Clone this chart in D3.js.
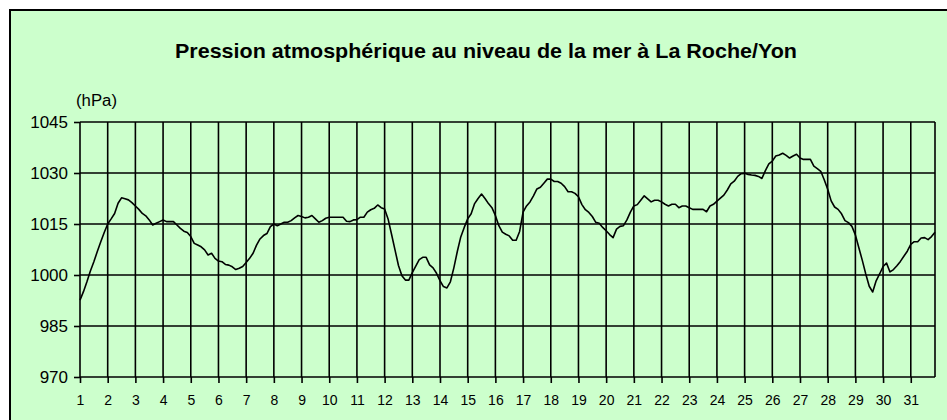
<!DOCTYPE html>
<html>
<head>
<meta charset="utf-8">
<script src="https://cdn.jsdelivr.net/npm/d3@7"></script>
<style>
  body { margin: 0; background: #fff; }
  text { font-family: "Liberation Sans", Arial, sans-serif; fill: #000; }
</style>
</head>
<body>
<svg id="chart" width="947" height="420"></svg>
<script>
var plot = {
    left: 80,
    right: 935,
    top: 122,
    bottom: 377
};

var colorFond = "#CCFFCC";

var titre = "Pression atmosphérique au niveau de la mer à La Roche/Yon";
var unite = "(hPa)";

// jours du mois (etiquettes de l'axe x)
var jours = d3.range(1, 32);
var yTicks = [970, 985, 1000, 1015, 1030, 1045];

// releves toutes les 3 heures (8 par jour), jour 1 -> 31
var pression = [
    992.6, 995.1, 998.0, 1001.2, 1003.9, 1006.9, 1009.8, 1012.5,   // 1
    1015.0, 1016.5, 1018.1, 1021.1, 1022.7, 1022.4, 1022.1, 1021.3, // 2
    1020.3, 1019.3, 1018.1, 1017.4, 1016.2, 1014.7, 1015.2, 1015.7, // 3
    1016.2, 1015.7, 1015.7, 1015.7, 1014.7, 1013.7, 1012.9, 1012.5, // 4
    1011.3, 1009.3, 1008.8, 1008.3, 1007.4, 1005.9, 1006.4, 1004.9, // 5
    1004.1, 1003.9, 1003.1, 1002.9, 1002.4, 1001.6, 1002.0, 1002.5, // 6
    1003.7, 1004.9, 1006.4, 1008.8, 1010.6, 1011.6, 1012.2, 1014.2, // 7
    1015.0, 1014.5, 1015.0, 1015.5, 1015.5, 1016.0, 1016.8, 1017.5, // 8
    1017.2, 1016.8, 1017.0, 1017.5, 1016.5, 1015.5, 1016.0, 1016.7, // 9
    1017.0, 1017.0, 1017.0, 1017.0, 1017.0, 1015.8, 1015.7, 1016.2, // 10
    1016.3, 1017.0, 1017.0, 1018.5, 1019.2, 1019.6, 1020.6, 1019.8, // 11
    1019.4, 1016.5, 1012.0, 1007.4, 1002.8, 999.8, 998.5, 998.5,    // 12
    1000.7, 1002.6, 1004.5, 1005.2, 1005.2, 1003.0, 1002.1, 1000.5, // 13
    998.3, 996.6, 996.2, 998.0, 1002.1, 1006.9, 1011.2, 1014.0,     // 14
    1016.5, 1018.0, 1021.0, 1022.5, 1023.8, 1022.5, 1021.0, 1019.8, // 15
    1017.5, 1014.5, 1012.6, 1012.0, 1011.5, 1010.2, 1010.2, 1012.8, // 16
    1018.5, 1020.3, 1021.5, 1023.3, 1025.3, 1025.8, 1027.0, 1028.2, // 17
    1028.2, 1027.5, 1027.5, 1027.0, 1026.0, 1024.5, 1024.5, 1024.0, // 18
    1023.0, 1020.7, 1019.2, 1018.4, 1017.2, 1015.5, 1015.2, 1014.0, // 19
    1013.0, 1011.9, 1011.0, 1013.5, 1014.3, 1014.5, 1016.2, 1018.5, // 20
    1020.3, 1020.7, 1022.0, 1023.3, 1022.4, 1021.5, 1022.0, 1022.0, // 21
    1021.5, 1020.8, 1020.3, 1020.8, 1020.8, 1019.8, 1020.3, 1020.3, // 22
    1019.8, 1019.3, 1019.3, 1019.3, 1019.3, 1018.6, 1020.3, 1020.8, // 23
    1021.7, 1022.6, 1023.5, 1025.0, 1026.8, 1027.6, 1029.0, 1029.8, // 24
    1029.9, 1029.6, 1029.4, 1029.3, 1029.0, 1028.4, 1030.7, 1032.7, // 25
    1033.5, 1035.0, 1035.3, 1035.8, 1035.2, 1034.4, 1035.0, 1035.5, // 26
    1034.4, 1034.0, 1034.0, 1034.0, 1032.0, 1031.3, 1030.5, 1028.0, // 27
    1025.2, 1021.8, 1020.0, 1019.3, 1018.0, 1016.0, 1015.4, 1014.3, // 28
    1011.8, 1008.0, 1004.3, 1000.3, 996.7, 995.0, 998.3, 1000.3,    // 29
    1002.5, 1003.5, 1000.9, 1001.6, 1002.7, 1004.0, 1005.5, 1007.0, // 30
    1009.0, 1009.8, 1009.8, 1010.9, 1011.0, 1010.4, 1011.3, 1012.6  // 31
];

var svg = d3.select("#chart");

// cadre vert
svg.append("rect")
    .attr("x", 10).attr("y", 10)
    .attr("width", 960).attr("height", 430)
    .style("fill", colorFond)
    .style("stroke", "#000")
    .style("stroke-width", 2);

var x = d3.scaleLinear()
    .domain([1, 31 + 7 / 8])
    .range([plot.left, plot.right]);

var y = d3.scaleLinear()
    .domain([970, 1045])
    .range([plot.bottom, plot.top]);

// titre
svg.append("text")
    .attr("x", 486).attr("y", 58)
    .attr("text-anchor", "middle")
    .attr("textLength", 622)
    .attr("lengthAdjust", "spacingAndGlyphs")
    .style("font-size", "21px")
    .style("font-weight", "bold")
    .text(titre);

svg.append("text")
    .attr("x", 76).attr("y", 106)
    .attr("textLength", 41)
    .attr("lengthAdjust", "spacingAndGlyphs")
    .style("font-size", "16px")
    .text(unite);

// grille
var grid = svg.append("g").attr("class", "grid");

grid.selectAll(".hline")
    .data(yTicks)
    .enter().append("line")
    .attr("x1", plot.left).attr("x2", plot.right)
    .attr("y1", d => y(d)).attr("y2", d => y(d));

grid.selectAll(".vline")
    .data(jours.concat([31 + 7 / 8]))
    .enter().append("line")
    .attr("x1", d => x(d)).attr("x2", d => x(d))
    .attr("y1", plot.top).attr("y2", plot.bottom);

grid.selectAll("line")
    .style("stroke", "#000")
    .style("stroke-width", 1.6);

// axes
var yAxis = svg.append("g")
    .attr("transform", "translate(" + plot.left + ",0)")
    .call(d3.axisLeft(y).tickValues(yTicks).tickSize(6).tickPadding(6).tickFormat(d3.format("d")));

var xAxis = svg.append("g")
    .attr("transform", "translate(0," + plot.bottom + ")")
    .call(d3.axisBottom(x).tickValues(jours).tickSize(6).tickPadding(12).tickFormat(d3.format("d")));

yAxis.selectAll("text").style("font-size", "17px").style("font-family", "Liberation Sans, Arial, sans-serif");
xAxis.selectAll("text").style("font-size", "14px").style("font-family", "Liberation Sans, Arial, sans-serif");
svg.selectAll(".domain").remove();
svg.selectAll(".tick line").style("stroke", "#000").style("stroke-width", 1.6);

// courbe de pression
var line = d3.line()
    .x((d, i) => x(1 + i / 8))
    .y(d => y(d));

svg.append("path")
    .datum(pression)
    .attr("d", line)
    .style("fill", "none")
    .style("stroke", "#000")
    .style("stroke-width", 1.6)
    .style("stroke-linejoin", "round");
</script>
</body>
</html>
